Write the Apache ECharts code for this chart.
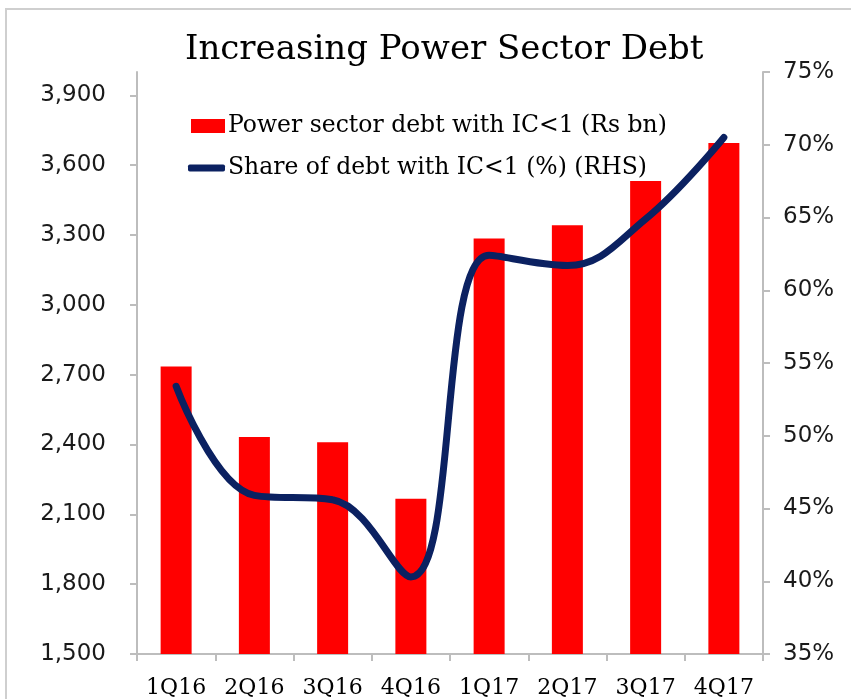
<!DOCTYPE html>
<html>
<head>
<meta charset="utf-8">
<script src="https://cdn.jsdelivr.net/npm/echarts@6/dist/echarts.min.js"></script>
<style>
  html, body { margin: 0; padding: 0; background: #fff; }
  #chart { width: 851px; height: 699px; }
</style>
</head>
<body>
<div id="chart"></div>
<script>
const quarters = ["1Q16", "2Q16", "3Q16", "4Q16", "1Q17", "2Q17", "3Q17", "4Q17"];
const debtRsBn = [2735, 2432, 2410, 2167, 3285, 3342, 3532, 3695];
const sharePct = [53.4, 45.9, 45.6, 40.3, 62.4, 61.7, 64.9, 70.5];
const leftTicks = [1500, 1800, 2100, 2400, 2700, 3000, 3300, 3600, 3900];
const barName = "Power sector debt with IC<1 (Rs bn)";
const lineName = "Share of debt with IC<1 (%) (RHS)";

const serif = "'DejaVu Serif', 'Liberation Serif', serif";
const sans = "'DejaVu Sans', sans-serif";
const axisGrey = "#bdbdbd";

const chart = echarts.init(document.getElementById("chart"));
chart.setOption({
  animation: false,
  title: {
    text: "Increasing Power Sector Debt",
    left: 180,
    top: 28,
    textStyle: { fontFamily: serif, fontSize: 34, fontWeight: "normal", color: "#000" }
  },
  graphic: [{
    type: "polyline",
    silent: true,
    shape: { points: [[6, 699], [6, 9], [851, 9]] },
    style: { stroke: "#cfcfcf", lineWidth: 2, fill: null }
  }],
  legend: [{
    data: [{ name: barName, icon: "rect" }],
    left: 186,
    top: 109,
    itemWidth: 34,
    itemHeight: 14,
    itemGap: 0,
    textStyle: { fontFamily: serif, fontSize: 23.5, color: "#000", padding: [0, 0, 0, -2] }
  }, {
    data: [{ name: lineName, icon: "roundRect" }],
    left: 183,
    top: 151,
    itemWidth: 37,
    itemHeight: 7,
    textStyle: { fontFamily: serif, fontSize: 23.5, color: "#000", padding: [0, 0, 0, -2] }
  }],
  grid: { left: 137, right: 88, top: 72, bottom: 43, containLabel: false },
  xAxis: {
    type: "category",
    data: quarters,
    boundaryGap: true,
    axisLine: { lineStyle: { color: axisGrey, width: 2 } },
    axisTick: { show: true, length: 7, lineStyle: { color: axisGrey, width: 2 } },
    axisLabel: { fontFamily: serif, fontSize: 22, color: "#000", margin: 23 }
  },
  yAxis: [{
    type: "value",
    min: 1500,
    max: 4000,
    interval: 300,
    splitLine: { show: false },
    axisLine: { show: true, lineStyle: { color: axisGrey, width: 2 } },
    axisTick: { show: true, length: 7, customValues: leftTicks, lineStyle: { color: axisGrey, width: 2 } },
    axisLabel: {
      customValues: leftTicks,
      fontFamily: sans, fontSize: 23, color: "#1a1a1a", margin: 31,
      formatter: v => v.toLocaleString("en-US")
    }
  }, {
    type: "value",
    min: 35,
    max: 75,
    interval: 5,
    position: "right",
    splitLine: { show: false },
    axisLine: { show: true, lineStyle: { color: axisGrey, width: 2 } },
    axisTick: { show: true, length: 7, lineStyle: { color: axisGrey, width: 2 } },
    axisLabel: { fontFamily: sans, fontSize: 23, color: "#1a1a1a", margin: 20, formatter: "{value}%" }
  }],
  series: [{
    name: barName,
    type: "bar",
    data: debtRsBn,
    barWidth: 31,
    itemStyle: { color: "#ff0000" }
  }, {
    name: lineName,
    type: "line",
    yAxisIndex: 1,
    data: sharePct,
    smooth: 0.4,
    showSymbol: false,
    lineStyle: { color: "#0b2161", width: 7, cap: "round" },
    itemStyle: { color: "#0b2161" }
  }]
});
</script>
</body>
</html>
